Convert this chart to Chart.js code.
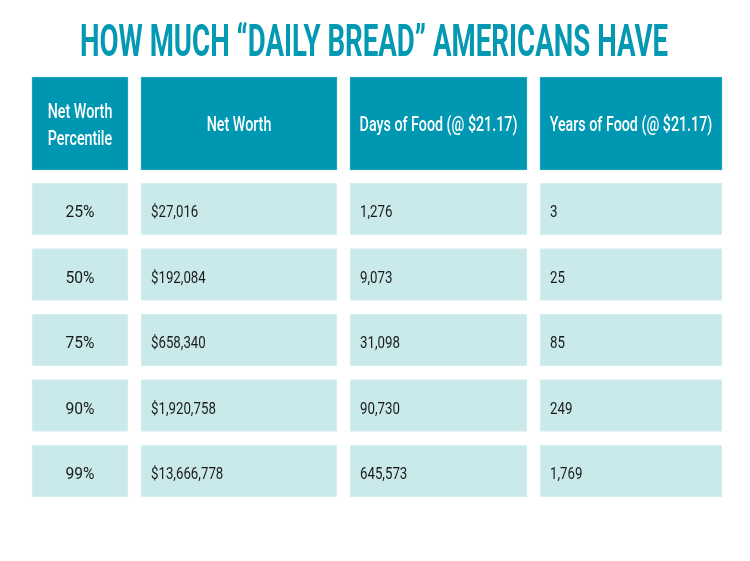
<!DOCTYPE html>
<html>
<head>
<meta charset="utf-8">
<script src="https://cdn.jsdelivr.net/npm/chart.js@4/dist/chart.umd.min.js"></script>
<style>
  html, body { margin: 0; padding: 0; background: #ffffff; }
  #wrap { width: 750px; height: 561px; }
</style>
</head>
<body>
<div id="wrap"><canvas id="c" width="750" height="561"></canvas></div>
<script>
// ---- DATA ----
const titleText = 'HOW MUCH “DAILY BREAD” AMERICANS HAVE';
const headers = [['Net Worth', 'Percentile'], ['Net Worth'], ['Days of Food (@ $21.17)'], ['Years of Food (@ $21.17)']];
const percentiles = ['25%', '50%', '75%', '90%', '99%'];
const netWorth = [27016, 192084, 658340, 1920758, 13666778];
const daysOfFood = [1276, 9073, 31098, 90730, 645573];
const yearsOfFood = [3, 25, 85, 249, 1769];

// ---- LAYOUT / STYLE ----
const colBounds = [[32, 128], [141, 337], [350, 527], [540, 722]];
const headerRowPos = -1.305;
const HEADER_BG = '#0097b2';
const CELL_BG = '#c9e9eb';
const TEXT_DARK = '#1b1b1b';

const fmt = v => v.toLocaleString('en-US');
const columns = [
  percentiles,
  netWorth.map(v => '$' + fmt(v)),
  daysOfFood.map(fmt),
  yearsOfFood.map(fmt)
];

const datasets = [];
// header row
datasets.push({
  label: 'header',
  data: colBounds.map(b => ({ x: [b[0], b[1]], y: headerRowPos })),
  backgroundColor: HEADER_BG,
  borderColor: '#2aa9bf',
  borderWidth: 1,
  borderSkipped: false,
  barThickness: 93,
  grouped: false,
  cellTexts: headers,
  cellKind: 'header'
});
// body columns
columns.forEach((col, ci) => {
  datasets.push({
    label: 'col' + ci,
    data: col.map((t, ri) => ({ x: [colBounds[ci][0], colBounds[ci][1]], y: ri })),
    backgroundColor: CELL_BG,
    borderColor: '#d8f0f1',
    borderWidth: 1,
    borderSkipped: false,
    barThickness: 52,
    grouped: false,
    cellTexts: col.map(t => [t]),
    cellKind: ci === 0 ? 'pct' : 'body'
  });
});

function drawCondensed(ctx, text, x, y, align, factor) {
  ctx.save();
  ctx.translate(x, y);
  ctx.scale(factor, 1);
  ctx.textAlign = align;
  ctx.fillText(text, 0, 0);
  ctx.restore();
}

const tablePlugin = {
  id: 'tableText',
  afterDatasetsDraw(chart) {
    const ctx = chart.ctx;
    ctx.save();
    ctx.textBaseline = 'alphabetic';
    chart.data.datasets.forEach((ds, di) => {
      const meta = chart.getDatasetMeta(di);
      meta.data.forEach((el, i) => {
        const p = el.getProps(['x', 'base', 'y', 'height'], true);
        const left = Math.min(p.x, p.base);
        const right = Math.max(p.x, p.base);
        const cx = (left + right) / 2;
        const lines = ds.cellTexts[i];
        if (ds.cellKind === 'header') {
          ctx.fillStyle = '#ffffff';
          ctx.font = '500 21px Roboto';
          const lh = 27;
          const n = lines.length;
          lines.forEach((ln, k) => {
            const cy = p.y + (k - (n - 1) / 2) * lh;
            drawCondensed(ctx, ln, cx, cy + 7.5, 'center', 0.68);
          });
        } else if (ds.cellKind === 'pct') {
          ctx.fillStyle = TEXT_DARK;
          ctx.font = '400 17px Roboto';
          drawCondensed(ctx, lines[0], cx, p.y + 8, 'center', 0.92);
        } else {
          ctx.fillStyle = TEXT_DARK;
          ctx.font = '400 17px Roboto';
          drawCondensed(ctx, lines[0], left + 10, p.y + 8, 'left', 0.78);
        }
      });
    });
    // title
    ctx.fillStyle = '#0399b3';
    ctx.font = '700 45px Roboto';
    const w = ctx.measureText(titleText).width;
    const targetW = 588;
    const ca = chart.chartArea;
    drawCondensed(ctx, titleText, (ca.left + ca.right) / 2 - 1, 56, 'center', targetW / w);
    ctx.restore();
  }
};

new Chart(document.getElementById('c'), {
  type: 'bar',
  data: { datasets },
  options: {
    indexAxis: 'y',
    responsive: false,
    animation: false,
    layout: { padding: 0 },
    plugins: { legend: { display: false }, tooltip: { enabled: false }, title: { display: false } },
    scales: {
      x: { type: 'linear', min: 0, max: 750, offset: false, bounds: 'data', display: false, grid: { display: false } },
      y: { type: 'linear', min: -3.191, max: 5.374, offset: false, bounds: 'data', reverse: true, display: false, grid: { display: false } }
    }
  },
  plugins: [tablePlugin]
});
</script>
</body>
</html>
